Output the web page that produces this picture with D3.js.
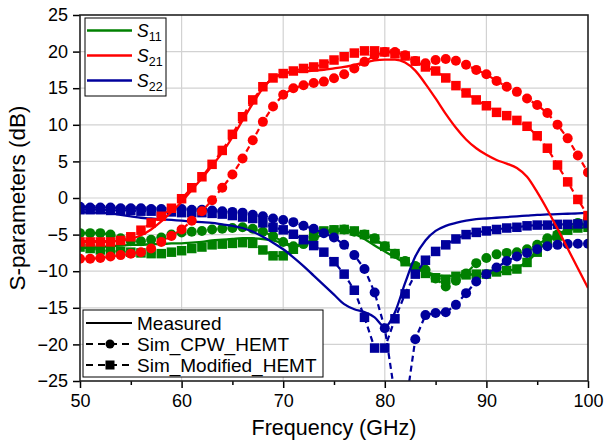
<!DOCTYPE html>
<html>
<head>
<meta charset="utf-8">
<script src="https://cdnjs.cloudflare.com/ajax/libs/d3/7.8.5/d3.min.js"></script>
<style>
body { margin: 0; background: #fff; }
text { font-family: Arial, "Liberation Sans", sans-serif; fill: #000; }
</style>
</head>
<body>
<svg id="chart" width="607" height="441"></svg>
<script>
// frequency points (GHz)
var freq = [50,51,52,53,54,55,56,57,58,59,60,61,62,63,64,65,66,67,68,69,70,71,72,73,74,75,
    76,77,78,79,80,81,82,83,84,85,86,87,88,89,90,91,92,93,94,95,96,97,98,99,100];

// S11
var s11Meas = [-6.8,-6.8,-6.7,-6.6,-6.5,-6.4,-6.4,-6.3,-6.3,-6.2, -6.2,-6.1,-6.0,-5.8,-5.7,-5.6,-5.5,-5.5,-5.6,-5.8,
    -6.2,-6.6,-6.3,-5.6,-4.9,-4.5,-4.5,-4.9,-5.6,-6.5, -7.3,-8.1,-8.9,-9.5,-10.1,-10.5,-10.7,-10.6,-10.5,-10.4,
    -10.3,-10.2,-10.0,-9.6,-8.6,-7.2,-6.0,-5.1,-4.4,-3.9, -3.5];
var s11Cpw = [-4.8,-4.8,-4.8,-5.0,-5.5,-5.9,-5.9,-5.7,-5.4,-5.0, -4.7,-4.6,-4.5,-4.3,-4.2,-4.1,-4.0,-4.2,-4.6,-5.2,
    -6.0,-6.6,-6.3,-5.4,-4.7,-4.4,-4.3,-4.6,-5.0,-5.5, -6.6,-7.6,-8.6,-9.3,-9.8,-11.0,-12.1,-11.3,-10.3,-8.9,
    -8.2,-7.7,-7.5,-7.4,-7.0,-6.4,-5.5,-5.0,-4.2,-3.4, -2.9];
var s11Mod = [-6.7,-6.9,-7.1,-7.3,-7.3,-7.4,-7.5,-7.6,-7.6,-7.4, -7.2,-6.9,-6.7,-6.4,-6.3,-6.2,-6.1,-6.2,-7.1,-7.9,
    -7.9,-7.0,-5.8,-5.0,-4.5,-4.35,-4.3,-4.5,-5.0,-5.6, -6.6,-7.6,-8.7,-9.5,-10.3,-10.9,-11.1,-10.7,-10.5,-10.4,
    -10.4,-10.1,-9.9,-9.7,-8.8,-7.4,-6.1,-5.2,-4.4,-4.1, -4.0];

// S21
var s21Meas = [-5.9,-5.9,-5.9,-5.9,-5.8,-5.6,-5.1,-4.3,-3.2,-1.9, -0.5,1.1,2.7,4.4,6.2,8.3,10.6,12.9,15.0,16.4,
    17.0,17.2,17.3,17.4,17.5,17.7,17.9,18.2,18.5,18.8, 18.9,18.9,18.5,17.4,15.6,13.6,11.5,9.6,8.0,6.8,
    5.9,5.2,4.7,4.1,2.9,0.8,-1.6,-4.2,-6.9,-9.6, -12.3];
var s21Cpw = [-8.3,-8.3,-8.2,-8.0,-7.8,-7.6,-7.4,-6.9,-6.0,-5.2, -4.3,-3.1,-1.8,-0.3,1.4,3.2,5.4,7.9,10.4,12.5,
    14.1,15.0,15.4,15.7,15.9,16.35,16.9,17.7,18.6,19.5, 19.95,19.95,19.5,18.7,18.4,18.85,19.0,18.75,18.2,17.5,
    16.9,16.0,15.2,14.5,13.6,12.7,11.6,10.0,8.15,5.8, 3.5];
var s21Mod = [-6.0,-6.0,-6.0,-6.0,-5.8,-5.3,-4.4,-3.4,-2.5,-1.4, -0.1,1.4,2.9,4.6,6.5,8.7,11.1,13.4,15.2,16.4,
    17.0,17.35,17.7,17.9,18.3,18.85,19.3,19.8,20.1,20.1, 19.95,19.7,19.4,18.7,17.9,17.35,16.4,15.35,14.35,13.4,
    12.6,11.7,11.25,10.6,9.8,8.5,6.8,4.5,2.2,-0.2, -2.4];

// S22
var s22Meas = [-1.9,-2.0,-2.0,-2.1,-2.3,-2.5,-2.7,-2.8,-2.9,-3.0, -3.1,-3.2,-3.3,-3.4,-3.6,-3.8,-4.1,-4.6,-5.3,-6.1,
    -7.0,-8.1,-9.3,-10.6,-11.9,-13.2,-14.5,-15.2,-15.6,-16.3, -17.6,-15.6,-11.6,-8.0,-5.8,-4.5,-3.8,-3.4,-3.1,-2.9,
    -2.8,-2.7,-2.6,-2.5,-2.4,-2.3,-2.25,-2.2,-2.15,-2.1, -2.0];
var s22Cpw = [-1.2,-1.3,-1.3,-1.3,-1.4,-1.4,-1.4,-1.5,-1.5,-1.5, -1.5,-1.6,-1.6,-1.7,-1.8,-1.9,-2.0,-2.3,-2.5,-2.8,
    -3.0,-3.3,-3.8,-4.2,-4.8,-5.4,-6.4,-7.8,-9.7,-12.9, -17.8,-27.0,-29.0,-19.3,-16.0,-15.7,-15.6,-14.6,-13.0,-11.4,
    -10.4,-9.5,-8.6,-8.0,-7.5,-7.0,-6.6,-6.4,-6.3,-6.25, -6.25];
var s22Mod = [-1.6,-1.6,-1.6,-1.7,-1.7,-1.7,-1.8,-1.8,-1.9,-1.9, -2.0,-2.0,-2.0,-2.1,-2.2,-2.4,-2.6,-2.8,-3.4,-4.0,
    -4.35,-4.95,-5.7,-6.5,-7.4,-8.7,-10.4,-12.6,-16.3,-20.5, -20.5,-16.5,-13.1,-10.4,-8.5,-7.3,-6.4,-5.6,-5.0,-4.7,
    -4.5,-4.3,-4.1,-4.0,-3.8,-3.7,-3.7,-3.6,-3.6,-3.55, -3.5];

var xTicks = [50, 60, 70, 80, 90, 100];
var xMinor = [55, 65, 75, 85, 95];
var yTicks = [-25, -20, -15, -10, -5, 0, 5, 10, 15, 20, 25];

var params = ["11", "21", "22"];
var colors = ["#008000", "#ff0000", "#00009c"];
var typeNames = ["Measured", "Sim_CPW_HEMT", "Sim_Modified_HEMT"];

var pLeft = 80, pRight = 588, pTop = 15, pBottom = 381;

var x = d3.scaleLinear().domain([50, 100]).range([pLeft, pRight]);
var y = d3.scaleLinear().domain([-25, 25]).range([pBottom, pTop]);

var svg = d3.select("#chart");

svg.append("defs").append("clipPath").attr("id", "plotclip")
    .append("rect").attr("x", pLeft).attr("y", pTop)
    .attr("width", pRight - pLeft).attr("height", pBottom - pTop);

// grid
var grid = svg.append("g").attr("stroke", "#d2d2d2").attr("stroke-width", 1.2);
grid.selectAll("line.gx").data(xTicks.slice(1, -1)).enter().append("line")
    .attr("x1", function (d) { return x(d); }).attr("x2", function (d) { return x(d); })
    .attr("y1", pTop).attr("y2", pBottom);
grid.selectAll("line.gy").data(yTicks.slice(1, -1)).enter().append("line")
    .attr("y1", function (d) { return y(d); }).attr("y2", function (d) { return y(d); })
    .attr("x1", pLeft).attr("x2", pRight);

// series
var series = [
    { c: colors[0], meas: s11Meas, cpw: s11Cpw, mod: s11Mod },
    { c: colors[2], meas: s22Meas, cpw: s22Cpw, mod: s22Mod },
    { c: colors[1], meas: s21Meas, cpw: s21Cpw, mod: s21Mod }
];

var smooth = d3.line()
    .x(function (d, i) { return x(freq[i]); })
    .y(function (d) { return y(d); })
    .curve(d3.curveMonotoneX);
var straight = d3.line()
    .x(function (d, i) { return x(freq[i]); })
    .y(function (d) { return y(d); });

var plot = svg.append("g").attr("clip-path", "url(#plotclip)");

series.forEach(function (s) {
    var g = plot.append("g");
    g.append("path").attr("d", smooth(s.meas))
        .attr("fill", "none").attr("stroke", s.c).attr("stroke-width", 2.3);

    g.append("path").attr("d", straight(s.cpw))
        .attr("fill", "none").attr("stroke", s.c).attr("stroke-width", 2.2)
        .attr("stroke-dasharray", "6,4");
    g.selectAll("circle").data(s.cpw).enter().append("circle")
        .attr("cx", function (d, i) { return x(freq[i]); })
        .attr("cy", function (d) { return y(d); })
        .attr("r", 5).attr("fill", s.c);

    g.append("path").attr("d", straight(s.mod))
        .attr("fill", "none").attr("stroke", s.c).attr("stroke-width", 2.2)
        .attr("stroke-dasharray", "6,4");
    g.selectAll("rect").data(s.mod).enter().append("rect")
        .attr("x", function (d, i) { return x(freq[i]) - 4.75; })
        .attr("y", function (d) { return y(d) - 4.75; })
        .attr("width", 9.5).attr("height", 9.5).attr("fill", s.c);
});

// axes
var xAxis = svg.append("g").attr("transform", "translate(0," + pBottom + ")")
    .call(d3.axisBottom(x).tickValues(xTicks).tickSize(7).tickPadding(6).tickSizeOuter(0));
svg.append("g").attr("transform", "translate(0," + pBottom + ")")
    .call(d3.axisBottom(x).tickValues(xMinor).tickSize(4).tickFormat("").tickSizeOuter(0));
var yAxis = svg.append("g").attr("transform", "translate(" + pLeft + ",0)")
    .call(d3.axisLeft(y).tickValues(yTicks).tickSize(7).tickPadding(5).tickSizeOuter(0));

svg.selectAll(".domain").remove();
svg.selectAll(".tick line").attr("stroke", "#000").attr("stroke-width", 1.5);
xAxis.selectAll("text").attr("font-size", 18).attr("font-family", "Arial, 'Liberation Sans', sans-serif");
yAxis.selectAll("text").attr("font-size", 18).attr("font-family", "Arial, 'Liberation Sans', sans-serif");

// frame
svg.append("rect").attr("x", pLeft).attr("y", pTop)
    .attr("width", pRight - pLeft).attr("height", pBottom - pTop)
    .attr("fill", "none").attr("stroke", "#222").attr("stroke-width", 1.6);

// axis titles
svg.append("text").attr("x", (pLeft + pRight) / 2).attr("y", 435)
    .attr("text-anchor", "middle").attr("font-size", 21.5)
    .text("Frequency (GHz)");
svg.append("text").attr("transform", "translate(25," + ((pTop + pBottom) / 2) + ") rotate(-90)")
    .attr("text-anchor", "middle").attr("font-size", 22.5)
    .text("S-parameters (dB)");

// legend: parameters
var leg1 = svg.append("g");
leg1.append("rect").attr("x", 85).attr("y", 18).attr("width", 81).attr("height", 78)
    .attr("fill", "#fff").attr("stroke", "#000").attr("stroke-width", 1);
params.forEach(function (p, i) {
    var ly = 30.5 + i * 25;
    leg1.append("line").attr("x1", 87).attr("x2", 132).attr("y1", ly).attr("y2", ly)
        .attr("stroke", colors[i]).attr("stroke-width", 2.5);
    var t = leg1.append("text").attr("x", 137).attr("y", ly + 6).attr("font-size", 17.5);
    t.append("tspan").attr("font-style", "italic").text("S");
    t.append("tspan").attr("font-size", 12.5).attr("dy", 4).text(p);
});

// legend: data types
var leg2 = svg.append("g");
leg2.append("rect").attr("x", 83).attr("y", 310).attr("width", 240).attr("height", 67)
    .attr("fill", "#fff").attr("stroke", "#000").attr("stroke-width", 1);
typeNames.forEach(function (n, i) {
    var ly = 323 + i * 21;
    var ln = leg2.append("line").attr("x1", 86).attr("x2", 132).attr("y1", ly).attr("y2", ly)
        .attr("stroke", "#000").attr("stroke-width", 2.2);
    if (i > 0) ln.attr("stroke-dasharray", "7,5");
    if (i == 1) leg2.append("circle").attr("cx", 110).attr("cy", ly).attr("r", 4.5);
    if (i == 2) leg2.append("rect").attr("x", 105.5).attr("y", ly - 4.5).attr("width", 9).attr("height", 9);
    leg2.append("text").attr("x", 137).attr("y", ly + 6.5).attr("font-size", 19).text(n);
});
</script>
</body>
</html>
